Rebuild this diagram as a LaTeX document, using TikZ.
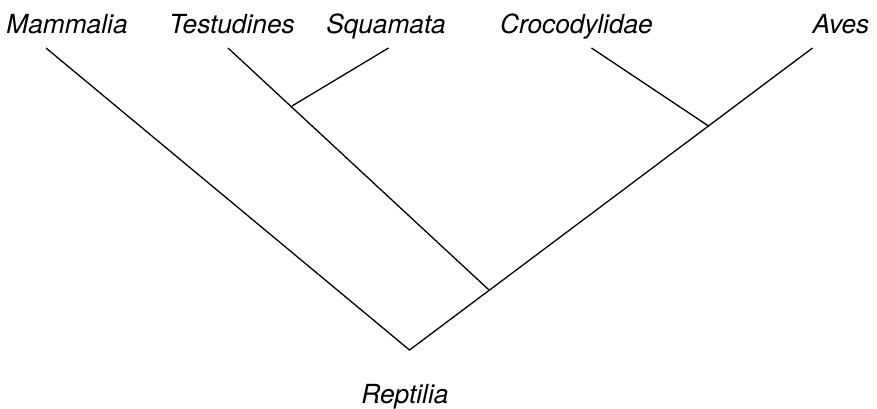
\documentclass[tikz,border=0pt]{standalone}
\usepackage{fontspec}
\setsansfont{TeX Gyre Heros}
\usetikzlibrary{positioning}

\tikzset{
  taxon/.style={font=\sffamily\itshape\fontsize{26.3}{30}\selectfont,
    inner sep=0pt,anchor=base},
  branch/.style={black,line width=1.3pt}
}

\begin{document}
\begin{tikzpicture}[x=1pt,y=-1pt]
\useasboundingbox (0,0) rectangle (877,408);

% names of the groups
\node[taxon] (mammalia) at (67,33) {Mammalia};
\node[taxon] (testudines) at (232,33) {Testudines};
\node[taxon] (squamata) at (386,33) {Squamata};
\node[taxon] (crocodylidae) at (576.5,33) {Crocodylidae};
\node[taxon] (aves) at (841,33) {Aves};
\node[taxon] (reptilia) at (405,403) {Reptilia};

% tips and forks
\coordinate (tipm) at (46,48);
\coordinate (tipt) at (228,48);
\coordinate (tips) at (388.5,48);
\coordinate (tipc) at (591.5,48);
\coordinate (tipa) at (812.5,48);
\coordinate (root) at (409.5,350);
\coordinate (forkt) at (489,290);
\coordinate (forks) at (292,106);
\coordinate (forkc) at (708.5,126);

\draw[branch] (tipm) -- (root) -- (tipa);
\draw[branch] (tipt) -- (forkt);
\draw[branch] (tips) -- (forks);
\draw[branch] (tipc) -- (forkc);
\end{tikzpicture}
\end{document}
